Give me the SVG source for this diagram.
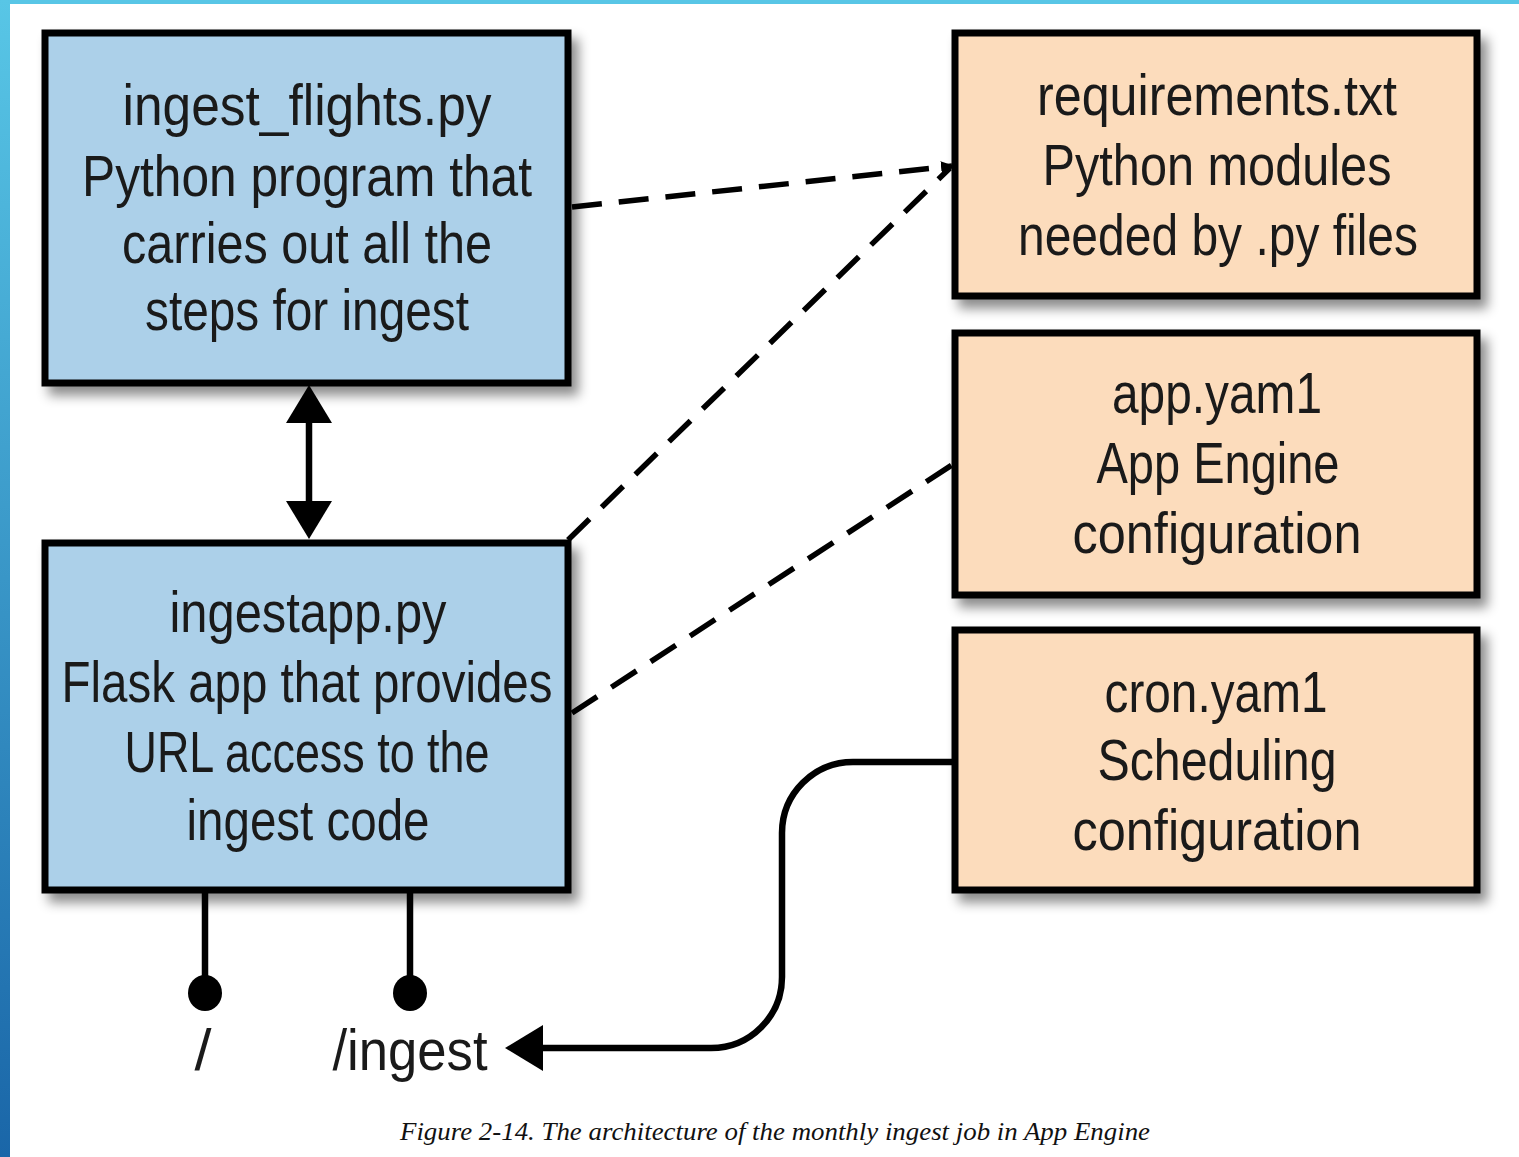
<svg xmlns="http://www.w3.org/2000/svg" width="1519" height="1157" viewBox="0 0 1519 1157">
  <style>
    .box { stroke: #000; stroke-width: 7; filter: url(#shadow); }
    .blue { fill: #acd0e9; }
    .peach { fill: #fcdcbc; }
    .lbl { font-family: "Liberation Sans Narrow", "Liberation Sans", sans-serif; font-size: 58px; fill: #1a1a1a; text-anchor: middle; }
    .dash { fill: none; stroke: #000; stroke-width: 5.5; stroke-dasharray: 30 17; }
    .solid { fill: none; stroke: #000; stroke-width: 6.5; }
    .caption { font-family: "Liberation Serif", serif; font-style: italic; font-size: 25px; fill: #111; text-anchor: middle; }
  </style>
  <defs>
    <linearGradient id="leftBand" x1="0" y1="0" x2="0" y2="1">
      <stop offset="0" stop-color="#58c6e6"/>
      <stop offset="1" stop-color="#1a66a8"/>
    </linearGradient>
    <filter id="shadow" x="-10%" y="-10%" width="130%" height="130%">
      <feDropShadow dx="7" dy="9" stdDeviation="6" flood-color="#000" flood-opacity="0.45"/>
    </filter>
    <marker id="arrow" viewBox="0 0 40 48" markerWidth="40" markerHeight="48" refX="28" refY="24" orient="auto-start-reverse" markerUnits="userSpaceOnUse">
      <path d="M0,1 L38,24 L0,47 Z" fill="#000"/>
    </marker>
    <marker id="smallArrow" viewBox="0 0 14 14" markerWidth="14" markerHeight="14" refX="11" refY="7" orient="auto" markerUnits="userSpaceOnUse">
      <path d="M0,1 L13,7 L0,13 Z" fill="#000"/>
    </marker>
    <marker id="dot" viewBox="0 0 40 40" markerWidth="40" markerHeight="40" refX="20" refY="12" orient="0" markerUnits="userSpaceOnUse">
      <ellipse cx="20" cy="20" rx="17" ry="18" fill="#000"/>
    </marker>
  </defs>

  <rect x="0" y="0" width="1519" height="1157" fill="#ffffff"/>
  <rect x="0" y="0" width="1519" height="4" fill="#58c6e6"/>
  <rect x="0" y="0" width="10" height="1157" fill="url(#leftBand)"/>

  <g id="connectors">
    <line class="solid" x1="309" y1="395" x2="309" y2="529" marker-start="url(#arrow)" marker-end="url(#arrow)"/>
    <path class="dash" d="M572,207 L952,166" marker-end="url(#smallArrow)"/>
    <path class="dash" d="M568,540 L950,168"/>
    <path class="dash" d="M572,713 L955,463"/>
    <path class="solid" d="M955,762 H853 A71,71 0 0 0 782,833 V977 A71,71 0 0 1 711,1048 H515" marker-end="url(#arrow)"/>
    <path class="solid" d="M205,890 V985" marker-end="url(#dot)"/>
    <path class="solid" d="M410,890 V985" marker-end="url(#dot)"/>
  </g>

  <g id="node-ingest-flights">
    <rect class="box blue" x="45" y="33" width="523" height="350"/>
    <text class="lbl" x="307" y="125" textLength="369" lengthAdjust="spacingAndGlyphs">ingest_flights.py</text>
    <text class="lbl" x="307" y="196" textLength="450" lengthAdjust="spacingAndGlyphs">Python program that</text>
    <text class="lbl" x="307" y="263" textLength="370" lengthAdjust="spacingAndGlyphs">carries out all the</text>
    <text class="lbl" x="307" y="330" textLength="324" lengthAdjust="spacingAndGlyphs">steps for ingest</text>
  </g>

  <g id="node-ingestapp">
    <rect class="box blue" x="45" y="543" width="523" height="347"/>
    <text class="lbl" x="308" y="632" textLength="277" lengthAdjust="spacingAndGlyphs">ingestapp.py</text>
    <text class="lbl" x="307" y="702" textLength="491" lengthAdjust="spacingAndGlyphs">Flask app that provides</text>
    <text class="lbl" x="307" y="772" textLength="365" lengthAdjust="spacingAndGlyphs">URL access to the</text>
    <text class="lbl" x="308" y="840" textLength="243" lengthAdjust="spacingAndGlyphs">ingest code</text>
  </g>

  <g id="node-requirements">
    <rect class="box peach" x="955" y="33" width="522" height="263"/>
    <text class="lbl" x="1217" y="115" textLength="360" lengthAdjust="spacingAndGlyphs">requirements.txt</text>
    <text class="lbl" x="1217" y="185" textLength="349" lengthAdjust="spacingAndGlyphs">Python modules</text>
    <text class="lbl" x="1218" y="255" textLength="400" lengthAdjust="spacingAndGlyphs">needed by .py files</text>
  </g>

  <g id="node-app-yaml">
    <rect class="box peach" x="955" y="333" width="522" height="262"/>
    <text class="lbl" x="1217" y="413" textLength="210" lengthAdjust="spacingAndGlyphs">app.yam1</text>
    <text class="lbl" x="1218" y="483" textLength="243" lengthAdjust="spacingAndGlyphs">App Engine</text>
    <text class="lbl" x="1217" y="553" textLength="289" lengthAdjust="spacingAndGlyphs">configuration</text>
  </g>

  <g id="node-cron-yaml">
    <rect class="box peach" x="955" y="630" width="522" height="260"/>
    <text class="lbl" x="1216" y="712" textLength="223" lengthAdjust="spacingAndGlyphs">cron.yam1</text>
    <text class="lbl" x="1217" y="780" textLength="239" lengthAdjust="spacingAndGlyphs">Scheduling</text>
    <text class="lbl" x="1217" y="850" textLength="289" lengthAdjust="spacingAndGlyphs">configuration</text>
  </g>

  <g id="endpoint-root">
    <text class="lbl" x="203" y="1070" textLength="17" lengthAdjust="spacingAndGlyphs">/</text>
  </g>
  <g id="endpoint-ingest">
    <text class="lbl" x="410" y="1070" textLength="155" lengthAdjust="spacingAndGlyphs">/ingest</text>
  </g>

  <text class="caption" x="775" y="1140" textLength="750" lengthAdjust="spacingAndGlyphs">Figure 2-14. The architecture of the monthly ingest job in App Engine</text>
</svg>
